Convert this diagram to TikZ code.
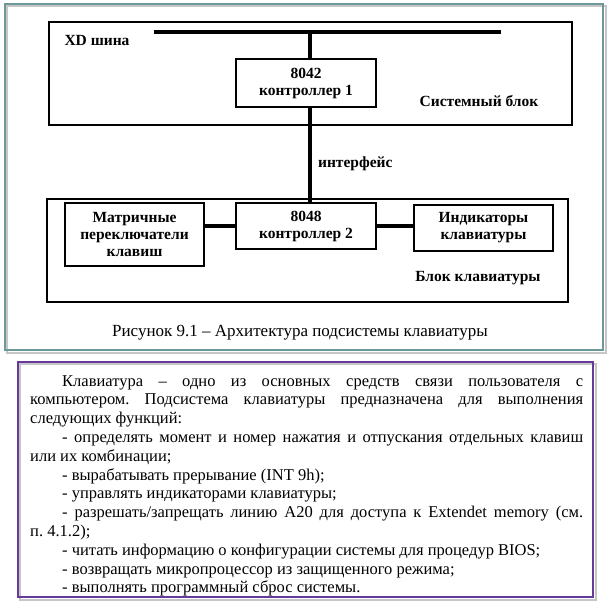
\documentclass[tikz,border=0pt]{standalone}
\usepackage{fontspec}
\setmainfont{Liberation Serif}
\usetikzlibrary{positioning}

\tikzset{
    blk/.style={draw, line width=1.6pt, minimum width=#1, inner sep=0pt},
    unit/.style={draw, line width=1.6pt, align=center, inner sep=1pt, font=\bfseries\fontsize{15.5}{17}\selectfont},
    lbl/.style={font=\bfseries\fontsize{15.5}{17}\selectfont},
    link/.style={line width=3.6pt},
}

\begin{document}
\begin{tikzpicture}[x=1pt,y=-1pt]

        \useasboundingbox (0,0) rectangle (612,603);

        % panels
        \draw[gray!45, line width=1.6pt] (7,6) rectangle (606,353);
        \draw[teal!45!gray!80, line width=1.4pt] (5,4) rectangle (603,350);
        \draw[gray!45, line width=1.6pt] (20,364) rectangle (596,600);
        \draw[blue!35!violet!55!gray, line width=1.4pt] (18,362) rectangle (593,597);

        % blocks
        \node[blk=523pt, minimum height=103pt] (sysblk) at (310.5,73.5) {};
        \node[blk=521pt, minimum height=103pt] (kbdblk) at (307.5,250.5) {};

        \node[unit, minimum width=140pt, minimum height=48pt] (ctrlA) at (306,83) {8042\\контроллер 1};
        \node[unit, minimum width=140pt, minimum height=46pt] (ctrlB) at (306,226) {8048\\контроллер 2};
        \node[unit, minimum width=139pt, minimum height=63pt] (keys) at (134.5,234.5) {Матричные\\переключатели\\клавиш};
        \node[unit, minimum width=139pt, minimum height=46pt] (leds) at (483.5,228) {Индикаторы\\клавиатуры};

        \node[lbl, anchor=west] (xd) at (61,40) {XD шина};
        \node[lbl] (syslbl) at (479,101) {Системный блок};
        \node[lbl] (kbdlbl) at (478,278) {Блок клавиатуры};

        % bus and links
        \coordinate (busL) at (154,32);
        \coordinate (busR) at (501,32);
        \coordinate (busT) at (310,32);
        \draw[line width=4pt] (busL) -- (busR);
        \draw[link] (busT) -- (busT |- ctrlA.north);
        \draw[link] (busT |- ctrlA.south) -- node[lbl, right=3pt, yshift=-9pt] (iface) {интерфейс} (busT |- ctrlB.north);
        \draw[link] (ctrlB.west) -- (ctrlB.west -| keys.east);
        \draw[link] (ctrlB.east) -- (ctrlB.east -| leds.west);

        \node[font=\fontsize{17}{19}\selectfont] (cap) at (300,333) {Рисунок 9.1 – Архитектура подсистемы клавиатуры};

        % text
        \node[anchor=north west, inner sep=0pt, text width=553pt, align=justify,
              font=\fontsize{16.5}{18.8}\selectfont] (body) at (30,375) {%
            \frenchspacing\parindent=32pt
            \indent Клавиатура – одно из основных средств связи пользователя с\linebreak
            компьютером. Подсистема клавиатуры предназначена для выполнения\linebreak
            следующих функций:\par
            - определять момент и номер нажатия и отпускания отдельных клавиш\linebreak
            или их комбинации;\par
            - вырабатывать прерывание (INT 9h);\par
            - управлять индикаторами клавиатуры;\par
            - разрешать/запрещать линию А20 для доступа к Extendet memory (см.\linebreak
            п. 4.1.2);\par
            - читать информацию о конфигурации системы для процедур BIOS;\par
            - возвращать микропроцессор из защищенного режима;\par
            - выполнять программный сброс системы.};

    \end{tikzpicture}
\end{document}
